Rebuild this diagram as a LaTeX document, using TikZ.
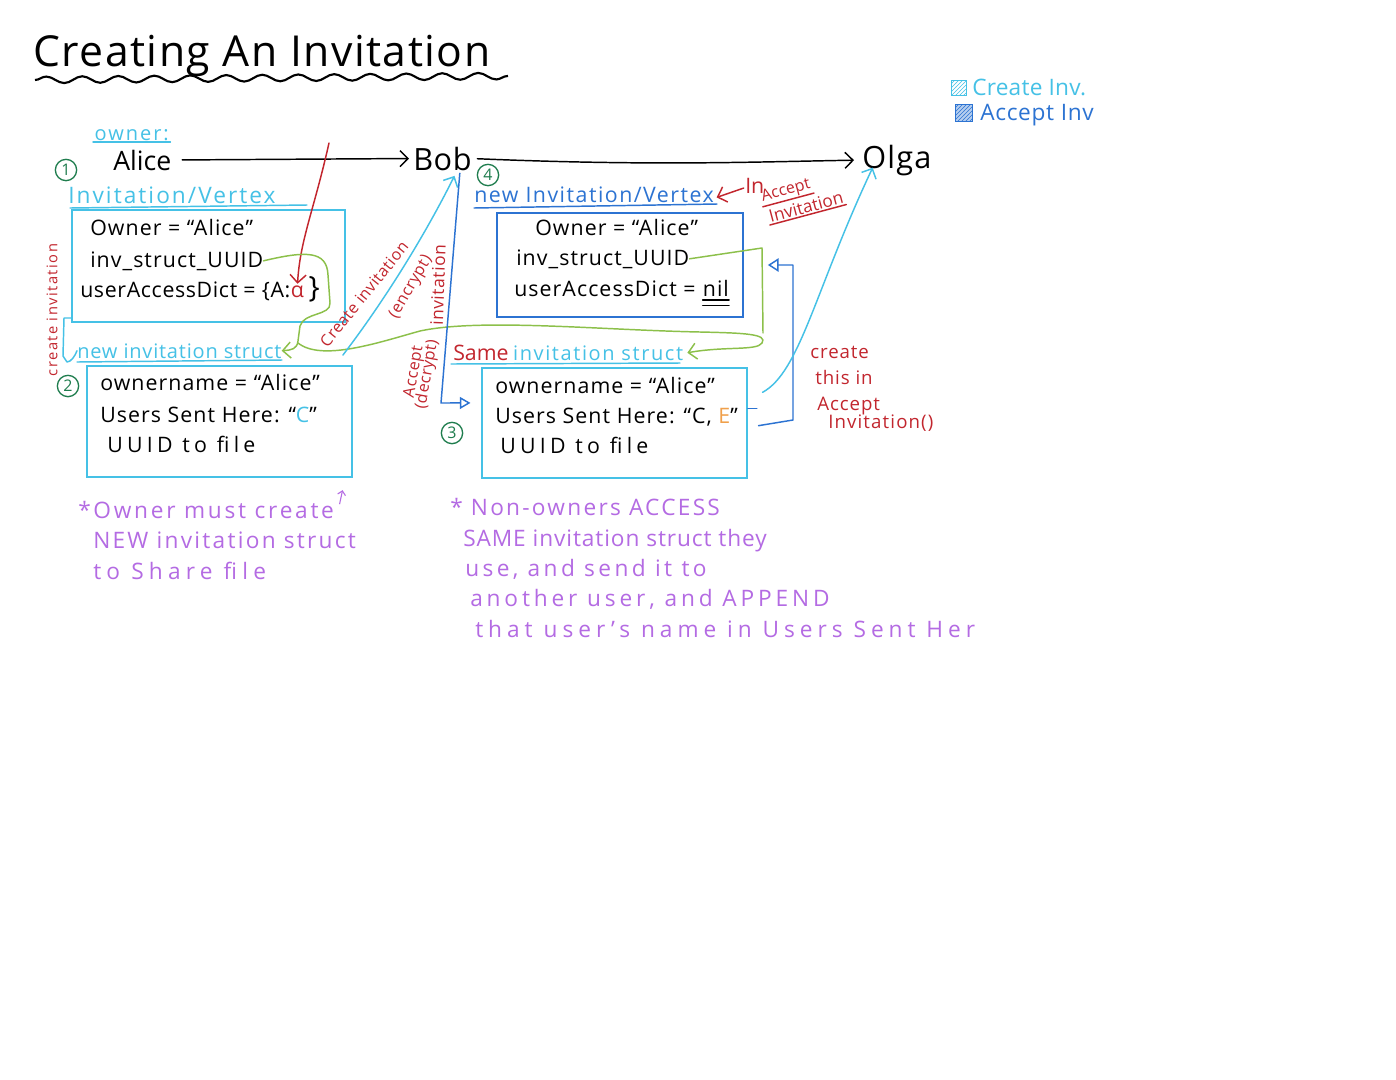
\documentclass[tikz,border=0pt]{standalone}
\usepackage{fontspec}
\setmainfont{Open Sans}
\usetikzlibrary{arrows.meta,decorations.pathmorphing,patterns,fit,calc}
\definecolor{cy}{HTML}{45C1E6}
\definecolor{bl}{HTML}{2C73D2}
\definecolor{rd}{HTML}{C2262E}
\definecolor{gn}{HTML}{1F7D4E}
\definecolor{lg}{HTML}{8CC04A}
\definecolor{pu}{HTML}{B46BE3}
\definecolor{og}{HTML}{F0A04B}
\newcommand\hwf[2]{\fontsize{#1}{#1}\selectfont\addfontfeature{LetterSpace=#2}}
\begin{document}
\begin{tikzpicture}[x=0.75pt,y=-0.75pt,
  txt/.style={anchor=base west,inner sep=0pt,font=\hwf{16}{5}},
  big/.style={anchor=base west,inner sep=0pt,font=\hwf{20}{0}},
  lbl/.style={anchor=base west,inner sep=0pt,font=\hwf{16}{0}},
  note/.style={anchor=base west,inner sep=0pt,text=pu},
  rnote/.style={inner sep=0pt,text=rd,font=\hwf{12}{0}},
  box/.style={draw,line width=1.3pt,inner sep=0pt},
  num/.style={circle,draw=gn,text=gn,line width=1pt,inner sep=0pt,minimum size=16pt,font=\hwf{12}{0}},
  barb/.style={-{Straight Barb[length=6pt,width=12pt]}},
  wire/.style={line width=1.1pt,line cap=round,line join=round}]
\path[use as bounding box,fill=white] (0,0) rectangle (1396,1079);

% title
\node[anchor=base west,inner sep=0pt,font=\hwf{32}{3.5}] (title) at (33,66) {Creating An Invitation};
\draw[line width=1.6pt,decorate,decoration={snake,amplitude=2.5pt,segment length=27pt}] (35,80) -- (508,76);

% legend
\node[draw=cy,line width=1pt,minimum size=11pt,inner sep=0pt,pattern=north east lines,pattern color=cy] (iconC) at (959,88) {};
\node[lbl,text=cy,font=\hwf{17}{1}] (legC) at (972,95) {Create Inv.};
\node[draw=bl,line width=1pt,minimum size=13pt,inner sep=0pt,fill=bl!35,postaction={pattern=north east lines,pattern color=bl}] (iconA) at (964,113) {};
\node[lbl,text=bl,font=\hwf{17}{3}] (legA) at (980,120) {Accept Inv};

% people
\node[lbl,text=cy,font=\hwf{15}{10},inner sep=1pt] (owner) at (93,140) {owner:};
\draw[cy,wire] (owner.south west) -- (owner.south east);
\node[num] (n1) at (66,170) {1};
\node[big] (alice) at (113,170) {Alice};
\node[big,font=\hwf{23}{2}] (bob) at (413,170) {Bob};
\node[big,font=\hwf{23}{4}] (olga) at (862,168) {Olga};
\node[num] (n4) at (488,175) {4};
\draw[wire,barb,shorten <=8pt,shorten >=3pt] (alice.east) -- (bob.west);
\draw[wire,barb,shorten <=4pt,shorten >=6pt] (bob.east) .. controls (650,166) and (750,162) .. (olga.west);

% box 1
\node[lbl,text=cy,font=\hwf{17}{9}] (invv) at (68,203) {Invitation/Vertex};
\draw[cy,wire] (70,208) -- (307,205);
\node[box,draw=cy,fit={(72,210)(345,322)}] (b1) {};
\node[txt] (b1a) at (90,235) {Owner = “Alice”};
\node[txt] (b1uuid) at (90,267) {inv\_struct\_UUID};
\node[txt,font=\hwf{16}{3}] (b1c) at (80,297) {userAccessDict = \{A:};
\node[txt,text=rd] (alpha) at (b1c.base east) {α};
\node[txt,font=\hwf{22}{0},anchor=base west] (rbr) at ([xshift=3pt]alpha.base east) {\}};
\coordinate (rtop) at (329,143);
\draw[rd,wire,barb,shorten >=1pt] (rtop) .. controls (314,210) and (300,240) .. (alpha.north);
\node[rnote,rotate=90,font=\hwf{11}{10}] (cinvl) at (52,310) {create invitation};

% green connectors
\node[lbl,text=cy,font=\hwf{15}{4}] (newis) at (77,358) {new invitation struct};
\draw[cy,wire] (77,362) -- (282,360);
\draw[cy,wire] (b1.west |- 0,318) -- (64,318) -- (63,356) -- (67,362) .. controls (71,362) and (75,356) .. (newis.west);
\draw[lg,wire,barb] (b1uuid.east) .. controls (305,251) and (327,250) .. (328,275) -- (330,303) .. controls (331,316) and (304,312) .. (300,326) -- (298,341) .. controls (297,349) and (292,350) .. (newis.east);
\coordinate (gj) at (298,343);
\node[txt,text=rd,font=\hwf{16}{0}] (same) at (453,360) {Same};
\node[lbl,text=cy,font=\hwf{15}{8}] (sameis) at ([xshift=3pt]same.base east) {invitation struct};
\draw[cy,wire] (451,364) -- (680,363);
\draw[lg,wire,barb] (gj) .. controls (322,362) and (380,342) .. (420,331) .. controls (480,318) and (600,330) .. (700,332) .. controls (745,333) and (768,334) .. (762,343) .. controls (757,351) and (725,346) .. ([xshift=3pt]sameis.east);

% box 2
\node[num] (n2) at (68,386) {2};
\node[box,draw=cy,fit={(87,366)(352,477)}] (b2) {};
\node[txt] (b2a) at (100,390) {ownername = “Alice”};
\node[txt] (b2b) at (100,422) {Users Sent Here: “\textcolor{cy}{C}”};
\node[txt,font=\hwf{16}{20}] (b2c) at (107,452) {UUID to file};

% create invitation arrow
\draw[cy,wire,barb] ($(b2.north east)+(-10,-10)$) .. controls (385,300) and (425,235) .. ([xshift=9pt,yshift=-4pt]bob.south);
\node[rnote,rotate=51,font=\hwf{12}{3}] (cinv) at (364,294) {Create invitation};
\node[rnote,rotate=60,font=\hwf{12}{3}] (enc) at (411,287) {(encrypt)};

% accept invitation arrow
\node[num] (n3) at (452,433) {3};
\node[box,draw=cy,fit={(482,368)(747,478)}] (b4) {};
\draw[bl,wire,-{Triangle[open,length=8pt,width=9pt]},shorten >=8pt] ([xshift=13pt,yshift=-2pt]bob.south) -- (441,403) -- ($(b4.north west)!0.32!(b4.south west)$);
\node[rnote,rotate=88,font=\hwf{13}{3}] (accinv) at (438,285) {invitation};
\node[rnote,rotate=80,align=center,font=\hwf{12}{3}] (accdec) at (421,373) {Accept\\[-2pt](decrypt)};

% box 3
\node[lbl,text=bl,font=\hwf{16}{7}] (nivx) at (474,202) {new Invitation/Vertex};
\draw[bl,wire] (474,208) -- (717,204);
\node[txt,text=rd,font=\hwf{16}{0}] (inT) at (745,193) {In};
\draw[rd,wire,barb,shorten >=2pt] ([xshift=-1pt,yshift=-2pt]inT.west) -- ([yshift=-3pt]nivx.east);
\node[rnote,rotate=15,font=\hwf{12}{0},inner sep=1pt] (accU) at (786,191) {Accept};
\draw[rd,wire] (accU.south west) -- (accU.south east);
\node[rnote,rotate=15,font=\hwf{13}{0},inner sep=1pt] (invU) at (806,207) {Invitation};
\draw[rd,wire] (invU.south west) -- (invU.south east);
\node[box,draw=bl,fit={(497,213)(743,317)}] (b3) {};
\node[txt] (b3a) at (535,235) {Owner = “Alice”};
\node[txt] (b3uuid) at (516,265) {inv\_struct\_UUID};
\node[txt] (b3c) at (514,296) {userAccessDict =};
\node[txt] (nil) at ([xshift=5pt]b3c.base east) {nil};
\draw[wire,line width=0.9pt] ([yshift=-3pt]nil.base west) -- ([yshift=-3pt]nil.base east);
\draw[wire,line width=0.9pt] ([yshift=-7pt]nil.base west) -- ([yshift=-7pt]nil.base east);
\draw[lg,wire] (b3uuid.east) -- (762,248) -- (763,333);

% box 4
\node[txt] (b4a) at (495,393) {ownername = “Alice”};
\node[txt] (b4b) at (495,423) {Users Sent Here: “C, \textcolor{og}{E}”};
\node[txt,font=\hwf{16}{20}] (b4c) at (500,453) {UUID to file};
\draw[bl,wire] ([yshift=11pt]b4.east) -- ++(9,0);
\draw[bl,wire,-{Triangle[open,length=8pt,width=10pt]}] ([xshift=8pt,yshift=-2pt]b4.east) -- (793,420) -- (793,265) -- ([xshift=18pt]b3.east);
\draw[cy,wire,barb] ([xshift=11pt,yshift=23pt]b4.east) .. controls (800,372) and (815,290) .. ([xshift=8pt,yshift=6pt]olga.south west);
\node[txt,text=rd,font=\hwf{14}{5}] (ct1) at (810,358) {create};
\node[txt,text=rd,font=\hwf{14}{5}] (ct2) at (815,384) {this in};
\node[txt,text=rd,font=\hwf{14}{5}] (ct3) at (817,410) {Accept};
\node[txt,text=rd,font=\hwf{14}{6}] (ct4) at (828,428) {Invitation()};

% notes
\node[note,font=\hwf{17}{12}] (o1) at (78,518) {*Owner must create};
\node[note,font=\hwf{17}{10}] (o2) at (93,548) {NEW invitation struct};
\node[note,font=\hwf{17}{23}] (o3) at (93,579) {to Share file};
\draw[pu,line width=0.8pt,-{Straight Barb[length=3pt,width=6pt]}] ([xshift=4pt,yshift=4pt]o1.east) -- ++(3,-14);
\node[note,font=\hwf{17}{10}] (p1) at (450,515) {* Non-owners ACCESS};
\node[note,font=\hwf{17}{4}] (p2) at (463,546) {SAME invitation struct they};
\node[note,font=\hwf{17}{15}] (p3) at (465,576) {use, and send it to};
\node[note,font=\hwf{17}{17}] (p4) at (470,606) {another user, and APPEND};
\node[note,font=\hwf{17}{22}] (p5) at (475,637) {that user's name in Users Sent Her};
\end{tikzpicture}
\end{document}
